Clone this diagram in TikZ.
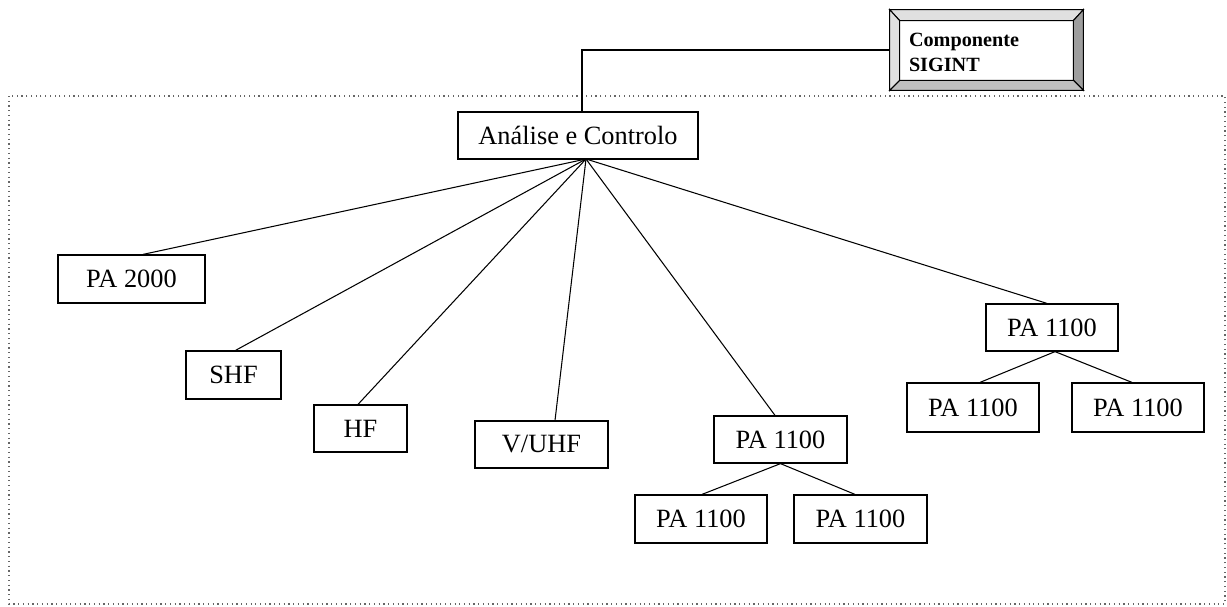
\documentclass[tikz,border=0pt]{standalone}
\usepackage{fontspec}
\setmainfont{Liberation Serif}
\usetikzlibrary{calc}
\newcommand{\ppx}{0.02}
\tikzset{
  unitbox/.style 2 args = {draw, line width=0.7pt, inner sep=0pt,
    minimum width={#1*\ppx cm}, minimum height={#2*\ppx cm},
    font=\fontsize{15}{18}\selectfont},                 % a plain labelled box
  pxshift/.style  = {xshift=#1*\ppx cm},                 % shift by pixels
  link/.style     = {line width=0.6pt},                  % a connector
  frame/.style    = {draw=black!60, dotted, line width=0.7pt},
  bevlight/.style = {fill=black!12, draw, line width=0.6pt},
  bevdark/.style  = {fill=black!38, draw, line width=0.6pt},
  bevmid/.style   = {fill=black!25, draw, line width=0.6pt},
  sigfont/.style  = {font=\bfseries\fontsize{11.5}{14}\selectfont},
}

\begin{document}
\begin{tikzpicture}[x=\ppx cm, y=-\ppx cm]
  \useasboundingbox (0,0) rectangle (1227,606);
  \draw[frame] (9,96) rectangle (1225,604);

  % the beveled SIGINT button
  \node[minimum width=193*\ppx cm, minimum height=80*\ppx cm, inner sep=0pt] (sigint) at (986.5,50) {};
  \node[minimum width=173*\ppx cm, minimum height=59*\ppx cm, inner sep=0pt] (sigin) at (986.5,50.5) {};
  \draw[bevlight] (sigint.north west) -- (sigint.north east) -- (sigin.north east) -- (sigin.north west) -- cycle;
  \draw[bevlight] (sigint.north west) -- (sigin.north west) -- (sigin.south west) -- (sigint.south west) -- cycle;
  \draw[bevdark] (sigint.north east) -- (sigint.south east) -- (sigin.south east) -- (sigin.north east) -- cycle;
  \draw[bevmid] (sigint.south west) -- (sigint.south east) -- (sigin.south east) -- (sigin.south west) -- cycle;
  \draw[line width=0.8pt] (sigint.north west) rectangle (sigint.south east);
  \draw[line width=0.6pt] (sigin.north west) rectangle (sigin.south east);
  \node[sigfont, anchor=west, align=left, inner sep=0pt] (sigtitle) at ([pxshift=9, yshift=-2*\ppx cm]sigin.west) {Componente\\SIGINT};

  % the tree
  \node[unitbox={240}{47}] (ana) at (578,135.5) {Análise e Controlo};
  \coordinate (hub) at (586,159);
  \node[unitbox={147}{48}] (pa2000) at (131.5,279) {PA 2000};
  \node[unitbox={95}{48}]  (shf) at (233.5,375) {SHF};
  \node[unitbox={93}{47}]  (hf) at (360.5,428.5) {HF};
  \node[unitbox={133}{47}] (vuhf) at (541.5,444.5) {V/UHF};
  \node[unitbox={133}{47}] (pamid) at (780.5,439.5) {PA 1100};
  \node[unitbox={132}{48}] (pamidl) at (701,519) {PA 1100};
  \node[unitbox={133}{48}] (pamidr) at (860.5,519) {PA 1100};
  \node[unitbox={132}{47}] (paright) at (1052,327.5) {PA 1100};
  \node[unitbox={132}{49}] (parightl) at (973,407.5) {PA 1100};
  \node[unitbox={132}{49}] (parightr) at (1138,407.5) {PA 1100};

  \draw[link] (sigint.west) -| ([pxshift=4]ana.north);
  \draw[link] (hub) -- ([pxshift=11.5]pa2000.north);
  \draw[link] (hub) -- ([pxshift=2]shf.north);
  \draw[link] (hub) -- ([pxshift=-2.5]hf.north);
  \draw[link] (hub) -- ([pxshift=13.5]vuhf.north);
  \draw[link] (hub) -- ([pxshift=-5.5]pamid.north);
  \draw[link] (hub) -- ([pxshift=-5]paright.north);
  \draw[link] (pamid.south) -- ([pxshift=1]pamidl.north);
  \draw[link] (pamid.south) -- ([pxshift=-5.5]pamidr.north);
  \draw[link] ([pxshift=3]paright.south) -- ([pxshift=7]parightl.north);
  \draw[link] ([pxshift=3]paright.south) -- ([pxshift=-6]parightr.north);
\end{tikzpicture}
\end{document}
